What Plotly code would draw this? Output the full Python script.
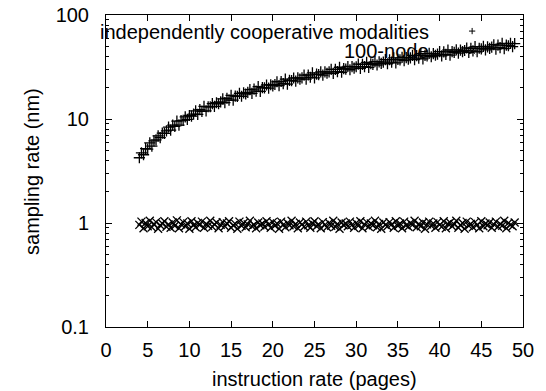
import plotly.graph_objects as go

x_vals = [4.0, 4.25, 4.5, 4.75, 5.0, 5.25, 5.5, 5.75, 6.0, 6.25, 6.5, 6.75, 7.0, 7.25, 7.5, 7.75,
          8.0, 8.25, 8.5, 8.75, 9.0, 9.25, 9.5, 9.75, 10.0, 10.25, 10.5, 10.75, 11.0, 11.25,
          11.5, 11.75, 12.0, 12.25, 12.5, 12.75, 13.0, 13.25, 13.5, 13.75, 14.0, 14.25, 14.5,
          14.75, 15.0, 15.25, 15.5, 15.75, 16.0, 16.25, 16.5, 16.75, 17.0, 17.25, 17.5, 17.75,
          18.0, 18.25, 18.5, 18.75, 19.0, 19.25, 19.5, 19.75, 20.0, 20.25, 20.5, 20.75, 21.0,
          21.25, 21.5, 21.75, 22.0, 22.25, 22.5, 22.75, 23.0, 23.25, 23.5, 23.75, 24.0, 24.25,
          24.5, 24.75, 25.0, 25.25, 25.5, 25.75, 26.0, 26.25, 26.5, 26.75, 27.0, 27.25, 27.5,
          27.75, 28.0, 28.25, 28.5, 28.75, 29.0, 29.25, 29.5, 29.75, 30.0, 30.25, 30.5, 30.75,
          31.0, 31.25, 31.5, 31.75, 32.0, 32.25, 32.5, 32.75, 33.0, 33.25, 33.5, 33.75, 34.0,
          34.25, 34.5, 34.75, 35.0, 35.25, 35.5, 35.75, 36.0, 36.25, 36.5, 36.75, 37.0, 37.25,
          37.5, 37.75, 38.0, 38.25, 38.5, 38.75, 39.0, 39.25, 39.5, 39.75, 40.0, 40.25, 40.5,
          40.75, 41.0, 41.25, 41.5, 41.75, 42.0, 42.25, 42.5, 42.75, 43.0, 43.25, 43.5, 43.75,
          44.0, 44.25, 44.5, 44.75, 45.0, 45.25, 45.5, 45.75, 46.0, 46.25, 46.5, 46.75, 47.0,
          47.25, 47.5, 47.75, 48.0, 48.25, 48.5, 48.75, 49.0]

coop_y = [4.24, 4.73, 4.53, 5.19, 5.14, 5.90, 5.48, 6.16, 6.30, 6.89, 6.61, 7.30, 7.27, 7.69,
          8.35, 7.80, 8.73, 8.48, 9.55, 8.72, 9.64, 9.71, 10.47, 9.92, 10.81, 10.65, 11.13,
          11.96, 11.08, 12.28, 11.82, 13.20, 11.96, 13.11, 13.12, 14.06, 13.23, 14.33, 14.02,
          14.58, 15.58, 14.35, 15.83, 15.17, 16.85, 15.20, 16.59, 16.53, 17.64, 16.54, 17.84,
          17.40, 18.02, 19.20, 17.62, 19.38, 18.51, 20.51, 18.43, 20.07, 19.94, 21.22, 19.84,
          21.35, 20.78, 21.47, 22.82, 20.90, 22.93, 21.85, 24.16, 21.67, 23.55, 23.35, 24.80,
          23.15, 24.87, 24.15, 24.91, 26.43, 24.17, 26.48, 25.19, 27.81, 24.91, 27.03, 26.76,
          28.39, 26.46, 28.38, 27.53, 28.36, 30.05, 27.44, 30.02, 28.53, 31.46, 28.15, 30.51,
          30.17, 31.97, 29.76, 31.90, 30.90, 31.80, 33.67, 30.71, 33.57, 31.87, 35.11, 31.39,
          33.99, 33.58, 35.55, 33.07, 35.41, 34.28, 35.25, 37.29, 33.99, 37.12, 35.22, 38.76,
          34.62, 37.47, 36.99, 39.14, 36.38, 38.92, 37.66, 38.69, 40.90, 37.26, 40.67, 38.56,
          42.42, 37.86, 40.95, 40.40, 42.72, 39.69, 42.44, 41.03, 42.14, 44.52, 40.53, 44.22,
          41.90, 46.07, 41.10, 44.43, 43.81, 46.30, 42.99, 45.95, 44.41, 45.58, 48.14, 43.80,
          47.77, 45.24, 49.72, 44.34, 47.91, 47.22, 49.88, 46.30, 49.46, 47.78, 49.03, 51.75,
          47.08, 51.31, 48.58, 53.37, 47.58, 51.39, 50.63, 53.47, 49.61, 52.98]

node_y = [0.96, 1.03, 0.89, 1.00, 0.93, 1.05, 0.91, 0.98, 1.02, 0.88, 0.95, 0.99, 1.04, 0.92,
          0.97, 0.90, 1.01, 0.94, 1.06, 0.89, 0.97, 1.02, 0.93, 0.99, 0.88, 1.04, 0.95, 0.91,
          1.00, 0.96, 1.03, 0.90, 0.98, 0.94, 1.05, 0.92, 0.97, 1.01, 0.89, 0.96, 1.02, 0.93,
          0.99, 1.04, 0.90, 0.95, 0.98, 0.88, 1.03, 0.94, 1.00, 0.91, 0.97, 1.05, 0.93, 0.96,
          0.89, 1.01, 0.95, 0.99, 0.92, 1.04, 0.97, 0.90, 1.02, 0.94, 0.99, 0.88, 1.03, 0.96,
          0.91, 1.00, 0.95, 1.05, 0.93, 0.98, 0.89, 1.01, 0.97, 0.92, 1.03, 0.95, 0.90, 0.99,
          1.04, 0.93, 0.97, 0.89, 1.02, 0.96, 0.91, 1.00, 0.94, 1.05, 0.92, 0.98, 0.88, 1.01,
          0.95, 0.99, 0.93, 1.03, 0.96, 0.90, 1.00, 0.94, 1.04, 0.89, 0.97, 1.02, 0.92, 0.99,
          0.95, 1.05, 0.91, 0.98, 0.88, 1.01, 0.96, 0.93, 1.02, 0.97, 0.90, 1.04, 0.94, 0.99,
          0.89, 1.03, 0.95, 0.92, 1.00, 0.96, 1.05, 0.91, 0.98, 0.93, 1.01, 0.88, 0.97, 1.03,
          0.94, 0.99, 0.90, 1.02, 0.96, 0.92, 1.04, 0.89, 0.98, 1.01, 0.93, 0.97, 1.05, 0.90,
          0.95, 1.00, 0.88, 1.03, 0.94, 0.98, 0.91, 1.02, 0.96, 0.89, 1.04, 0.93, 0.99, 0.95,
          1.01, 0.90, 0.97, 1.03, 0.92, 0.98, 0.94, 1.05, 0.89, 1.00, 0.96, 0.93, 1.01]

y_tickvals = [0.1, 1, 10, 100]
y_ticktext = ["0.1", "1", "10", "100"]
x_tickvals = [0, 5, 10, 15, 20, 25, 30, 35, 40, 45, 50]

series_names = ["independently cooperative modalities", "100-node"]
x_title = "instruction rate (pages)"
y_title = "sampling rate (nm)"

FONT = "Liberation Sans, Arial, Helvetica, sans-serif"
FS = 20

fig = go.Figure()
fig.add_trace(go.Scatter(x=x_vals, y=coop_y, mode="markers", name=series_names[0],
                         marker=dict(symbol="cross-thin-open", size=8,
                                     line=dict(color="black", width=1.3), color="black")))
fig.add_trace(go.Scatter(x=x_vals, y=node_y, mode="markers", name=series_names[1],
                         marker=dict(symbol="x-thin-open", size=8,
                                     line=dict(color="black", width=1.3), color="black")))

# gnuplot-style key: text right-aligned, sample symbol to its right
key_y = [0.9455, 0.885]
for name, ky in zip(series_names, key_y):
    fig.add_annotation(xref="paper", yref="paper", x=0.779, y=ky, text=name,
                       showarrow=False, xanchor="right", yanchor="middle",
                       font=dict(family=FONT, size=FS, color="black"))
# sample symbols
sx = 0.878
hw = 0.0075
hh = 0.010
fig.add_shape(type="line", xref="paper", yref="paper", x0=sx - hw, x1=sx + hw,
              y0=key_y[0] + 0.003, y1=key_y[0] + 0.003, line=dict(color="black", width=1))
fig.add_shape(type="line", xref="paper", yref="paper", x0=sx, x1=sx,
              y0=key_y[0] + 0.003 - hh, y1=key_y[0] + 0.003 + hh, line=dict(color="black", width=1))
fig.add_shape(type="line", xref="paper", yref="paper", x0=sx - hw, x1=sx + hw,
              y0=key_y[1] - hh, y1=key_y[1] + hh, line=dict(color="black", width=1))
fig.add_shape(type="line", xref="paper", yref="paper", x0=sx - hw, x1=sx + hw,
              y0=key_y[1] + hh, y1=key_y[1] - hh, line=dict(color="black", width=1))

# axis titles placed like gnuplot's
fig.add_annotation(xref="paper", yref="paper", x=0.5, y=-0.168, text=x_title,
                   showarrow=False, xanchor="center", yanchor="middle",
                   font=dict(family=FONT, size=FS, color="black"))
fig.add_annotation(xref="paper", yref="paper", x=-0.1775, y=0.5, text=y_title,
                   showarrow=False, xanchor="center", yanchor="middle", textangle=-90,
                   font=dict(family=FONT, size=FS, color="black"))

fig.update_layout(
    width=546, height=391,
    margin=dict(l=106, r=23, t=15, b=64),
    paper_bgcolor="white", plot_bgcolor="white",
    showlegend=False,
    font=dict(family=FONT, size=FS, color="black"),
    xaxis=dict(range=[0, 50], tickvals=x_tickvals, ticks="inside", ticklen=6,
               tickcolor="black", showline=True, linecolor="black", linewidth=1,
               mirror="allticks", showgrid=False, zeroline=False, automargin=False,
               tickfont=dict(family=FONT, size=FS),
               ticklabelstandoff=5),
    yaxis=dict(type="log", range=[-1, 2], tickvals=y_tickvals, ticktext=y_ticktext,
               ticks="inside", ticklen=6, tickcolor="black", showline=True,
               linecolor="black", linewidth=1, mirror="allticks", showgrid=False,
               zeroline=False, automargin=False,
               tickfont=dict(family=FONT, size=FS),
               minor=dict(ticks="inside", ticklen=3, tickcolor="black", dtick="D1",
                          showgrid=False),
               ticklabelstandoff=12),
)

fig.write_html("out.html")
